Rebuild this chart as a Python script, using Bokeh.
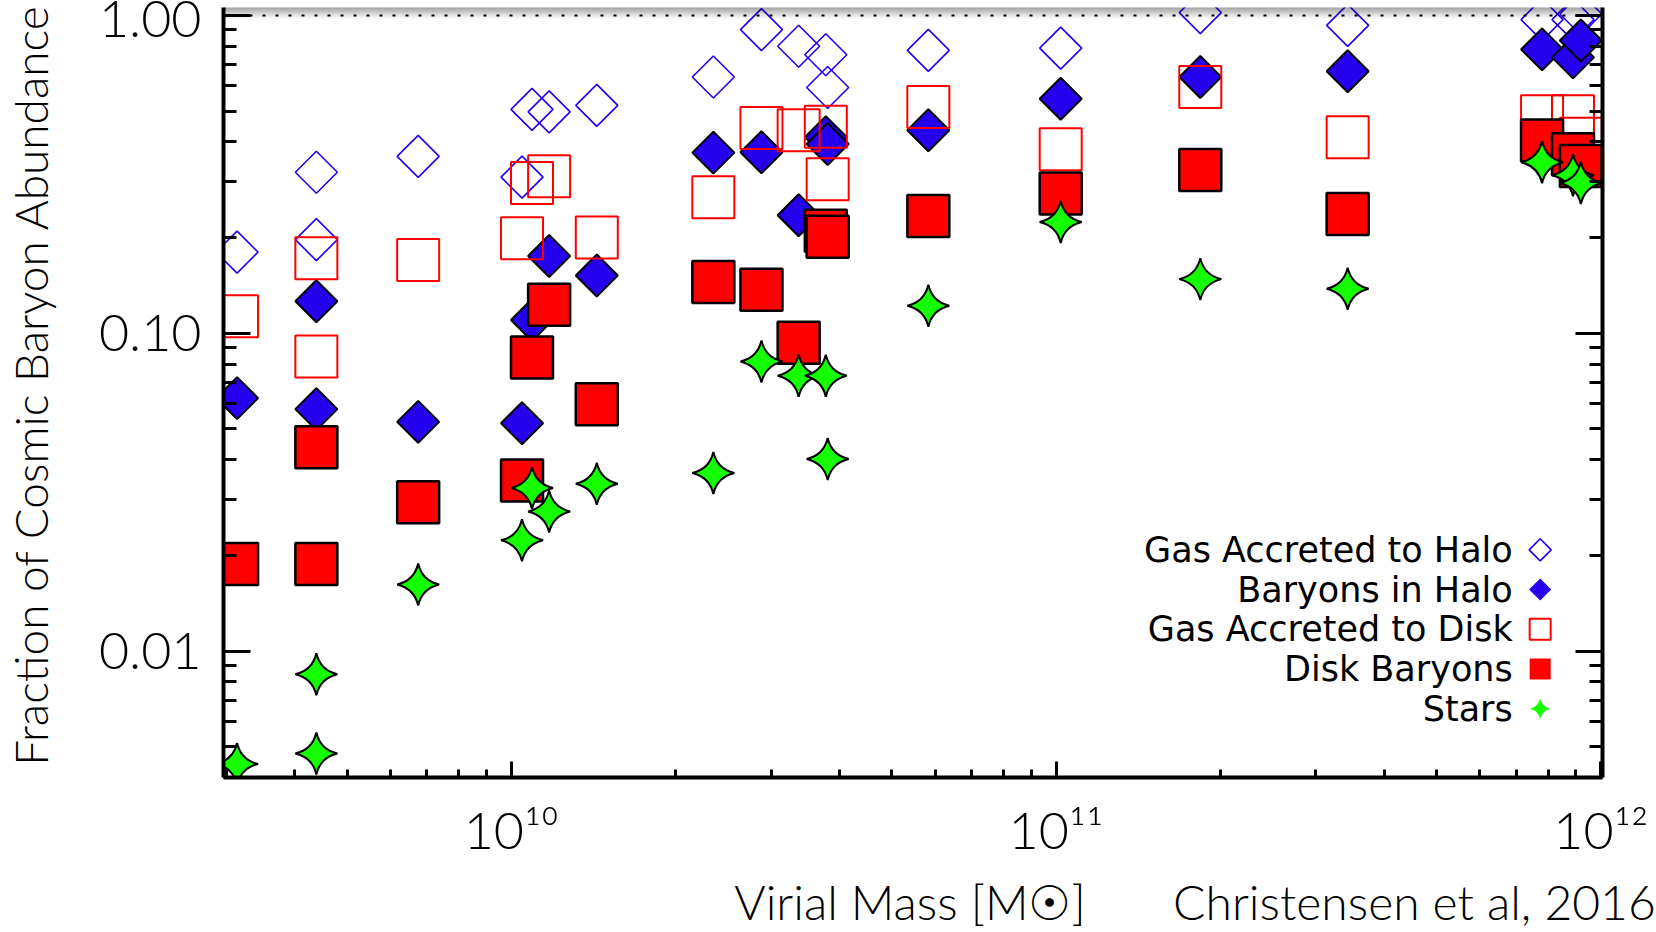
import numpy as np
from bokeh.plotting import figure
from bokeh.models import (FixedTicker, CustomJSTickFormatter, LogAxis, Span,
                          BoxAnnotation, ColumnDataSource)
from bokeh.core.properties import value
from bokeh.embed import file_html
from bokeh.resources import INLINE

# ---------------- data ----------------
virial_mass = [3.14e9, 4.39e9, 4.39e9, 6.75e9, 1.047e10, 1.092e10, 1.174e10, 1.436e10,
               2.35e10, 2.88e10, 3.37e10, 3.78e10, 3.81e10, 5.83e10, 1.02e11, 1.84e11,
               3.43e11, 7.80e11, 8.89e11, 9.19e11]
gas_accreted_halo = [0.180, 0.321, 0.197, 0.360, 0.310, 0.506, 0.497, 0.521, 0.640, 0.902,
                     0.800, 0.752, 0.593, 0.776, 0.789, 1.02, 0.93, 0.97, 0.97, 1.01]
baryons_in_halo = [0.0625, 0.126, 0.0577, 0.0526, 0.0521, 0.110, 0.175, 0.152, 0.370, 0.371,
                   0.235, 0.414, 0.394, 0.435, 0.547, 0.640, 0.667, 0.782, 0.738, 0.834]
gas_accreted_disk = [0.113, 0.172, 0.0845, 0.170, 0.199, 0.297, 0.312, 0.200, 0.268, 0.442,
                     0.435, 0.446, 0.305, 0.515, 0.379, 0.595, 0.414, 0.482, 0.482, 0.409]
disk_baryons = [0.0188, 0.0438, 0.0188, 0.0294, 0.0344, 0.0838, 0.123, 0.0598, 0.145, 0.137,
                0.0934, 0.210, 0.201, 0.234, 0.275, 0.326, 0.237, 0.404, 0.366, 0.336]
stars = [0.00441, 0.00845, 0.00476, 0.0162, 0.0223, 0.0326, 0.0275, 0.0336, 0.0363, 0.0815,
         0.0735, 0.0735, 0.0402, 0.122, 0.224, 0.148, 0.138, 0.345, 0.314, 0.297]

legend_labels = ["Gas Accreted to Halo", "Baryons in Halo", "Gas Accreted to Disk",
                 "Disk Baryons", "Stars"]
x_tick_values = [1e10, 1e11, 1e12]
x_tick_labels = ["10\u00b9\u2070", "10\u00b9\u00b9", "10\u00b9\u00b2"]
y_tick_values = [0.01, 0.1, 1.0]
y_tick_labels = ["0.01", "0.10", "1.00"]
x_title = "Virial Mass [M\u2609]"
y_title = "Fraction of Cosmic Baryon Abundance"
credit = "Christensen et al, 2016"

# ---------------- style / layout ----------------
BLUE = "#2400ee"
RED = "#ff0000"
GREEN = "#14ff00"
FONT = "Lato Light, Lato"
X0, X1 = 2.965e9, 1.007e12
Y0, Y1 = 0.0040, 1.059

W, H = 1656, 932
BL, BR, BT, BB = 220, 54, 7, 154

p = figure(width=W, height=H, x_axis_type="log", y_axis_type="log",
           x_range=(X0, X1), y_range=(Y0, Y1), output_backend="svg",
           toolbar_location=None, min_border_left=BL, min_border_right=BR,
           min_border_top=BT, min_border_bottom=BB)
p.outline_line_color = None
p.xgrid.visible = False
p.ygrid.visible = False
p.background_fill_color = "white"
p.border_fill_color = "white"

lx0, lx1 = np.log10(X0), np.log10(X1)
ly0, ly1 = np.log10(Y0), np.log10(Y1)


def fx(f):
    """data x at a fraction f of the frame width (log axis)"""
    return 10 ** (lx0 + f * (lx1 - lx0))


def fy(f):
    """data y at a fraction f of the frame height (log axis)"""
    return 10 ** (ly0 + f * (ly1 - ly0))


def minor_list(lo, hi):
    out = []
    for k in range(int(np.floor(np.log10(lo))) - 1, int(np.ceil(np.log10(hi))) + 1):
        for m in range(2, 10):
            v = m * 10.0 ** k
            if lo <= v <= hi:
                out.append(v)
    return out


def nearest_formatter(vals, labs):
    return CustomJSTickFormatter(args=dict(v=vals, l=labs), code="""
        let b = 0;
        for (let i = 0; i < v.length; i++) {
            if (Math.abs(Math.log10(tick) - Math.log10(v[i])) <
                Math.abs(Math.log10(tick) - Math.log10(v[b]))) { b = i; }
        }
        return l[b];
    """)


def style_axis(ax, major_len, minor_len):
    ax.axis_line_width = 4
    ax.axis_line_color = "black"
    ax.major_tick_in = major_len
    ax.major_tick_out = 0
    ax.minor_tick_in = minor_len
    ax.minor_tick_out = 0
    ax.major_tick_line_width = 3
    ax.minor_tick_line_width = 3
    ax.major_tick_line_color = "black"
    ax.minor_tick_line_color = "black"
    ax.major_label_text_font = FONT
    ax.major_label_text_font_size = "52px"
    ax.major_label_text_color = "black"


def title_axis(ax, size, standoff):
    """an axis that only carries a title text (no line, no ticks)"""
    ax.axis_line_color = None
    ax.major_tick_line_color = None
    ax.minor_tick_line_color = None
    ax.major_tick_in = 0
    ax.major_tick_out = 0
    ax.minor_tick_in = 0
    ax.minor_tick_out = 0
    ax.major_label_text_font = FONT
    ax.major_label_text_font_size = size
    ax.major_label_text_color = "black"
    ax.major_label_standoff = standoff


xa = p.xaxis[0]
xa.ticker = FixedTicker(ticks=x_tick_values, minor_ticks=minor_list(X0, X1))
xa.formatter = nearest_formatter(x_tick_values, x_tick_labels)
style_axis(xa, 16, 8)
xa.major_label_standoff = 20

ya = p.yaxis[0]
ya.ticker = FixedTicker(ticks=y_tick_values, minor_ticks=minor_list(Y0, Y1))
ya.formatter = nearest_formatter(y_tick_values, y_tick_labels)
style_axis(ya, 27, 13)
ya.major_label_standoff = 22

# right-hand axis: ticks only
ra = LogAxis(ticker=FixedTicker(ticks=y_tick_values, minor_ticks=minor_list(Y0, Y1)),
             formatter=CustomJSTickFormatter(code="return '';"))
style_axis(ra, 27, 13)
ra.major_label_text_font_size = "10px"
ra.major_label_standoff = 0
p.add_layout(ra, "right")

# titles below the x axis: the axis title and the credit sit on one line
bottom_pos = [fx(0.4978), fx(0.8636)]
bottom_txt = [x_title, credit]
xb = LogAxis(ticker=FixedTicker(ticks=bottom_pos, minor_ticks=[]),
             formatter=nearest_formatter(bottom_pos, bottom_txt))
title_axis(xb, "48px", 10)
p.add_layout(xb, "below")

# y-axis title, reading upwards, from near the bottom of the frame to the top edge
left_pos = [fy(0.5188)]
yb = LogAxis(ticker=FixedTicker(ticks=left_pos, minor_ticks=[]),
             formatter=nearest_formatter(left_pos, [y_title]))
title_axis(yb, "46px", 37)
yb.major_label_orientation = "vertical"
p.add_layout(yb, "left")

# dotted line at unity
p.add_layout(Span(location=1.0, dimension="width", line_color="black",
                  line_width=2, line_dash="3 10"))

# ---------------- data marks ----------------
src = ColumnDataSource(dict(m=virial_mass, gh=gas_accreted_halo, bh=baryons_in_halo,
                            gd=gas_accreted_disk, db=disk_baryons, st=stars))
DIAM = 29.7   # rotated square side -> 42 px tip to tip
SQ = 42
p.scatter("m", "gh", source=src, marker="square", angle=np.pi / 4, size=DIAM,
          fill_color=None, line_color=BLUE, line_width=1.6)
p.scatter("m", "bh", source=src, marker="square", angle=np.pi / 4, size=DIAM,
          fill_color=BLUE, line_color="black", line_width=2)
p.scatter("m", "gd", source=src, marker="square", size=SQ,
          fill_color=None, line_color=RED, line_width=2)
p.scatter("m", "db", source=src, marker="square", size=SQ,
          fill_color=RED, line_color="black", line_width=2.5)
p.scatter("m", "st", source=src, marker="square_pin", angle=np.pi / 4, size=DIAM,
          fill_color=GREEN, line_color="black", line_width=2)

# ---------------- legend (text left of the key, as in the reference) ----------------
key_fx, text_fx = 0.9548, 0.9349
row_fy = [0.2957 - i * 0.0516 for i in range(len(legend_labels))]
kx = [fx(key_fx)] * len(legend_labels)
ky = [fy(f) for f in row_fy]
p.text(x=[fx(text_fx)] * len(legend_labels), y=ky, text=legend_labels,
       text_align="right", text_baseline="middle", text_font=value("DejaVu Sans"),
       text_font_size="35px", text_color="black")
p.scatter(kx[0:1], ky[0:1], marker="square", angle=np.pi / 4, size=15.6,
          fill_color=None, line_color=BLUE, line_width=1.6)
p.scatter(kx[1:2], ky[1:2], marker="square", angle=np.pi / 4, size=15.6,
          fill_color=BLUE, line_color=None)
p.scatter(kx[2:3], ky[2:3], marker="square", size=21,
          fill_color=None, line_color=RED, line_width=2)
p.scatter(kx[3:4], ky[3:4], marker="square", size=21,
          fill_color=RED, line_color=None)
p.scatter(kx[4:5], ky[4:5], marker="square_pin", angle=np.pi / 4, size=14.5,
          fill_color=GREEN, line_color=None)

# soft grey shadow band along the top edge, as in the reference image
frame_h = H - BB - BT
band_alpha = [0.40, 0.38, 0.35, 0.31, 0.27, 0.23, 0.19, 0.15, 0.12, 0.09, 0.06, 0.04, 0.02]
for i, a in enumerate(band_alpha):
    p.add_layout(BoxAnnotation(left=0, right=W, top=frame_h - i, bottom=frame_h - i - 1,
                               left_units="screen", right_units="screen",
                               top_units="screen", bottom_units="screen",
                               fill_color="black", fill_alpha=a, line_color=None))

open("out.html", "w").write(file_html(p, INLINE))
